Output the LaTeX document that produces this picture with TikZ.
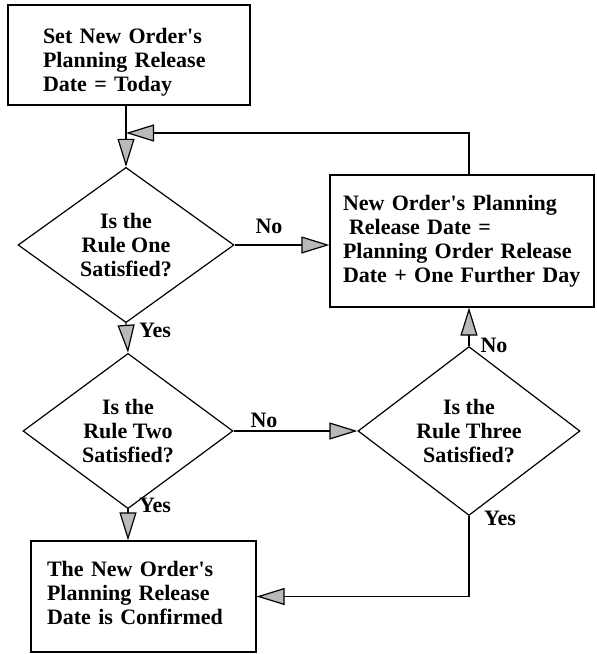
\documentclass[tikz,border=0pt]{standalone}
\usepackage{fontspec}
\setmainfont{Liberation Serif}
\usetikzlibrary{shapes.geometric,arrows.meta}
\tikzset{
	box/.style={draw,rectangle,align=left,inner ysep=0pt},
	decision/.style={draw,diamond,inner sep=0pt,align=center},
	arr/.style={-{Triangle[length=28pt,width=17pt,fill=gray!55]}},
	lbl/.style={inner sep=0pt}
}
\begin{document}
\begin{tikzpicture}[x=1pt,y=-1pt,line width=1.2pt,font=\fontsize{22}{24}\selectfont\bfseries]
	\useasboundingbox (0,0) rectangle (597,654);
	\node[box,minimum width=242,minimum height=100,text width=172,inner xsep=35](start)at(129,55){\rule{0pt}{30pt}Set New Order\textquotesingle s\\Planning Release\\Date = Today};
	\node[box,minimum width=264,minimum height=132,text width=238,inner xsep=13](upd)at(462,241){\rule{0pt}{10pt}New Order\textquotesingle s Planning\\\hspace*{6pt}Release Date =\\Planning Order Release\\Date + One Further Day};
	\node[box,minimum width=225,minimum height=111,text width=193,inner xsep=16](fin)at(143.5,596.5){The New Order\textquotesingle s\\Planning Release\\\rule[-7pt]{0pt}{0pt}Date is Confirmed};
				\node[decision,minimum width=216,minimum height=126](d1)at(126,245){Is the\\Rule One\\Satisfied?};
				\node[decision,minimum width=210,minimum height=124](d2)at(128,431){Is the\\Rule Two\\Satisfied?};
				\node[decision,minimum width=222,minimum height=125](d3)at(469,431){Is the\\Rule Three\\Satisfied?};
				\coordinate(fb)at(126,133);
				\draw[arr](d1.north |- start.south)--(d1.north);
				\draw[arr](upd.north -| d3.north)|-(fb);
				\draw[arr](d1.east)--(upd.west |- d1.east);
				\draw[arr](d1.south)--(d2.north);
				\draw[arr](d2.east)--(d3.west);
				\draw[arr](d3.north)--(upd.south -| d3.north);
				\draw[arr](d2.south)--(d2.south |- fin.north);
				\draw[arr](d3.south)|-(fin.east);
				\node[lbl](no1)at(269,226){No};
				\node[lbl](yes1)at(155,330){Yes};
				\node[lbl](no2)at(264,420){No};
				\node[lbl](yes2)at(155,505){Yes};
				\node[lbl](no3)at(494,345){No};
				\node[lbl](yes3)at(500,518){Yes};
\end{tikzpicture}
\end{document}
